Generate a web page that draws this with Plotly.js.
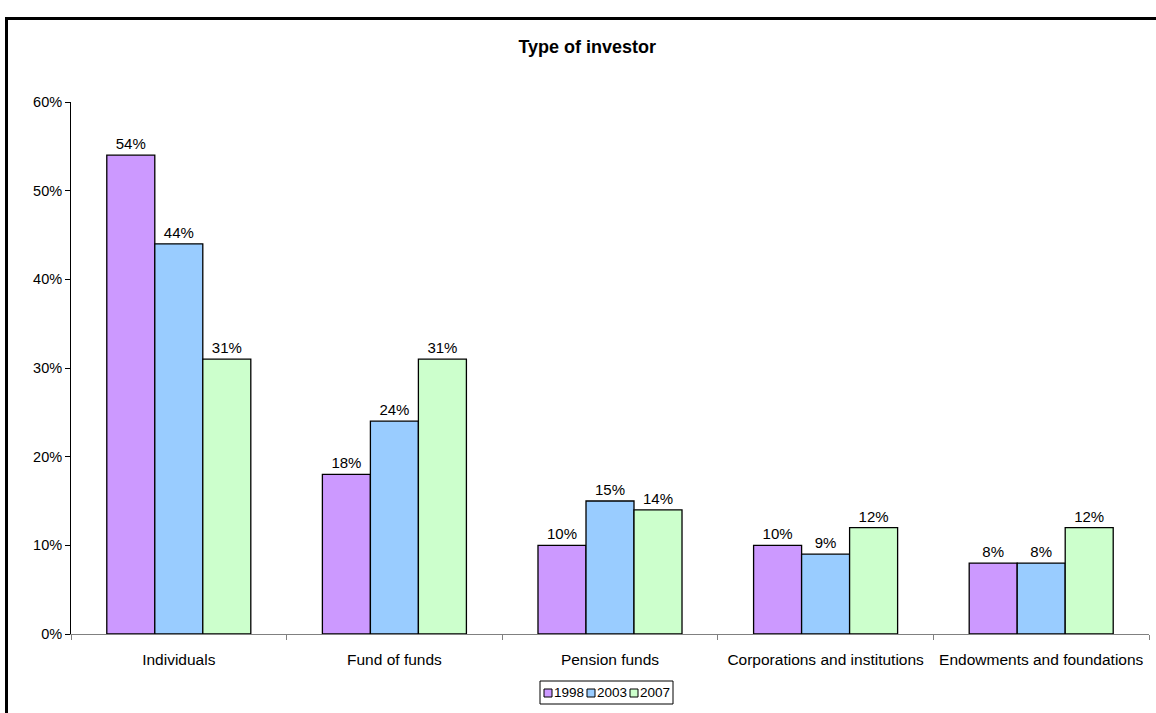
<!DOCTYPE html>
<html>
<head>
<meta charset="utf-8">
<script src="https://cdn.plot.ly/plotly-3.0.1.min.js"></script>
<style>
  html, body { margin: 0; padding: 0; background: #fff; }
  #wrap { position: relative; width: 1156px; height: 713px; overflow: hidden; }
  #chart { position: absolute; left: 0; top: 0; width: 1156px; height: 713px; }
  #frame { position: absolute; left: 5px; top: 17px; width: 1300px; height: 900px;
           border-top: 3px solid #000; border-left: 3px solid #000; pointer-events: none; }
</style>
</head>
<body>
<div id="wrap">
  <div id="chart"></div>
  <div id="frame"></div>
</div>
<script>
// Share of hedge fund capital by investor type
const categories = ['Individuals', 'Fund of funds', 'Pension funds',
                    'Corporations and institutions', 'Endowments and foundations'];
const seriesNames = ['1998', '2003', '2007'];
const values1998 = [54, 18, 10, 10, 8];
const values2003 = [44, 24, 15, 9, 8];
const values2007 = [31, 31, 14, 12, 12];
const seriesColors = ['#CC99FF', '#99CCFF', '#CCFFCC'];

const FONT = 'Arial, "Liberation Sans", sans-serif';
const W = 1156, H = 713;
const M = { l: 71, r: 7, t: 102, b: 79 };

const seriesValues = [values1998, values2003, values2007];
const traces = seriesValues.map((vals, i) => ({
  type: 'bar',
  name: seriesNames[i],
  x: categories,
  y: vals,
  marker: { color: seriesColors[i], line: { color: '#000', width: 1.3 } },
  text: vals.map(v => v + '%'),
  textposition: 'outside',
  textfont: { family: FONT, size: 15, color: '#000' },
  cliponaxis: false,
  hoverinfo: 'x+y+name',
  showlegend: false
}));

// Pixel -> paper helpers for the boxed legend under the axis
const pw = W - M.l - M.r, ph = H - M.t - M.b;
const px = x => (x - M.l) / pw;
const py = y => (H - M.b - y) / ph;

const shapes = [];
const annotations = [];
const itemW = 43;
const legLeft = 540, legRight = legLeft + 4 + itemW * seriesNames.length;
const legTop = 681, legBottom = 704;
shapes.push({ type: 'rect', xref: 'paper', yref: 'paper',
  x0: px(legLeft), x1: px(legRight), y0: py(legBottom), y1: py(legTop),
  line: { color: '#000', width: 1 }, fillcolor: 'rgba(0,0,0,0)' });
seriesNames.forEach((name, i) => {
  const sx = legLeft + 4 + i * itemW;
  shapes.push({ type: 'rect', xref: 'paper', yref: 'paper',
    x0: px(sx), x1: px(sx + 8), y0: py(697), y1: py(689),
    line: { color: '#000', width: 1 }, fillcolor: seriesColors[i] });
  annotations.push({ xref: 'paper', yref: 'paper', x: px(sx + 9), y: py(692.5),
    xanchor: 'left', yanchor: 'middle', showarrow: false, text: name,
    borderpad: 0, font: { family: FONT, size: 13.5, color: '#000' } });
});

const layout = {
  width: W, height: H,
  margin: M,
  paper_bgcolor: '#fff', plot_bgcolor: '#fff',
  font: { family: FONT, size: 13, color: '#000' },
  title: { text: '<b>Type of investor</b>', x: 0.508, xanchor: 'center',
           y: 1 - 47 / H, yanchor: 'middle',
           font: { family: FONT, size: 18, color: '#000' } },
  barmode: 'group',
  bargap: 0.332,
  bargroupgap: 0,
  showlegend: false,
  xaxis: {
    type: 'category',
    showline: true, linecolor: '#808080', linewidth: 1,
    ticks: 'outside', tickson: 'boundaries', ticklen: 5, tickcolor: '#808080',
    ticklabelstandoff: 11,
    showgrid: false, zeroline: false,
    tickfont: { family: FONT, size: 15.5, color: '#000' },
    fixedrange: true
  },
  yaxis: {
    range: [0, 60], dtick: 10, ticksuffix: '%',
    showline: true, linecolor: '#000', linewidth: 1,
    ticks: 'outside', ticklen: 5, tickcolor: '#000',
    showgrid: false, zeroline: false,
    tickfont: { family: FONT, size: 14.5, color: '#000' },
    fixedrange: true
  },
  shapes: shapes,
  annotations: annotations
};

Plotly.newPlot('chart', traces, layout, { staticPlot: true, displayModeBar: false });
</script>
</body>
</html>
